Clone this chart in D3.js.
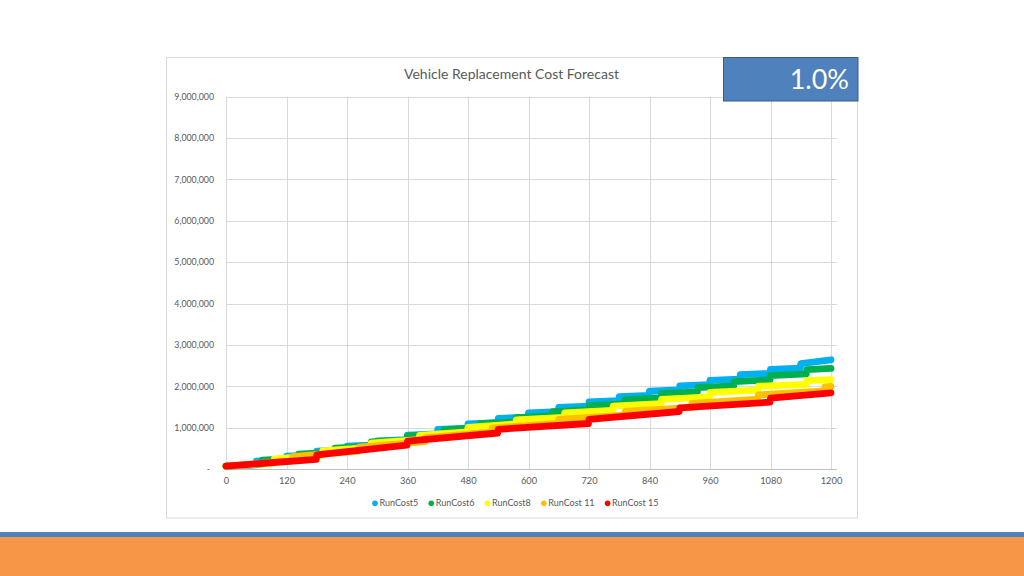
<!DOCTYPE html>
<html><head><meta charset="utf-8">
<script src="https://cdn.jsdelivr.net/npm/d3@7"></script>
<style>body{margin:0;background:#fff}svg{display:block}</style>
</head><body>
<svg id="c" width="1024" height="576"></svg>
<script>
const chartTitle = "Vehicle Replacement Cost Forecast";
const rateLabel = "1.0%";
const xTicks = [0,120,240,360,480,600,720,840,960,1080,1200];
const yTicks = [0,1000000,2000000,3000000,4000000,5000000,6000000,7000000,8000000,9000000];
const seriesNames = ["RunCost5","RunCost6","RunCost8","RunCost 11","RunCost 15"];
const seriesColors = ["#00B0F0","#00B050","#FFFF00","#FFC000","#FF0000"];

// [month, cost]
const runCost5 = [[0,70000],[59,100000],[60,190000],[119,220000],[120,310000],[179,340000],[180,430000],[239,460000],[240,555000],[299,585000],[300,680000],[359,710000],[360,820000],[419,850000],[420,960000],[479,990000],[480,1090000],[539,1120000],[540,1225000],[599,1255000],[600,1355000],[659,1385000],[660,1490000],[719,1520000],[720,1620000],[779,1650000],[780,1750000],[839,1780000],[840,1880000],[899,1910000],[900,2010000],[959,2040000],[960,2140000],[1019,2170000],[1020,2280000],[1079,2310000],[1080,2410000],[1139,2440000],[1140,2550000],[1200,2640000]];
const runCost6 = [[0,70000],[71,116000],[72,216000],[143,261000],[144,361000],[215,407000],[216,507000],[287,553000],[288,653000],[359,698000],[360,798000],[431,844000],[432,944000],[503,992000],[504,1095000],[575,1140000],[576,1240000],[647,1285000],[648,1385000],[719,1430000],[720,1530000],[791,1575000],[792,1675000],[863,1720000],[864,1820000],[935,1865000],[936,1965000],[1007,2010000],[1008,2110000],[1079,2155000],[1080,2255000],[1151,2300000],[1152,2400000],[1200,2430000]];
const runCost8 = [[0,70000],[95,140000],[96,245000],[191,330000],[192,435000],[287,520000],[288,625000],[383,710000],[384,815000],[479,900000],[480,1005000],[575,1090000],[576,1190000],[671,1250000],[672,1355000],[767,1415000],[768,1520000],[863,1580000],[864,1685000],[959,1745000],[960,1850000],[1055,1905000],[1056,2000000],[1151,2045000],[1152,2135000],[1200,2160000]];
const runCost11 = [[0,70000],[131,200000],[132,300000],[263,430000],[264,530000],[395,660000],[396,760000],[527,890000],[528,990000],[659,1105000],[660,1200000],[791,1300000],[792,1395000],[923,1490000],[924,1585000],[1055,1690000],[1056,1790000],[1187,1890000],[1188,1985000],[1200,1995000]];
const runCost15 = [[0,70000],[179,235000],[180,340000],[359,575000],[360,675000],[539,870000],[540,960000],[719,1100000],[720,1200000],[899,1390000],[900,1480000],[1079,1615000],[1080,1715000],[1200,1840000]];
const seriesData = [runCost5, runCost6, runCost8, runCost11, runCost15];

const svg = d3.select("#c");
const font = "Lato, 'Liberation Sans', sans-serif";
const txt = "#595959", grid = "#d9d9d9";

// chart frame
svg.append("rect").attr("x",166.5).attr("y",57.5).attr("width",691).attr("height",460.5)
  .attr("fill","#fff").attr("stroke",grid).attr("stroke-width",1);

const x = d3.scaleLinear().domain([0,1200]).range([226,831]);
const y = d3.scaleLinear().domain([0,9000000]).range([469,96.7]);
const plotRight = 837;

// gridlines
svg.append("g").selectAll("line").data(yTicks.filter(d=>d>0)).join("line")
  .attr("x1",x(0)).attr("x2",plotRight).attr("y1",d=>Math.round(y(d))+0.5).attr("y2",d=>Math.round(y(d))+0.5)
  .attr("stroke",grid).attr("stroke-width",1);
svg.append("g").selectAll("line").data(xTicks).join("line")
  .attr("x1",d=>Math.round(x(d))+0.5).attr("x2",d=>Math.round(x(d))+0.5).attr("y1",y(9000000)).attr("y2",y(0))
  .attr("stroke",grid).attr("stroke-width",1);
svg.append("line").attr("x1",x(0)).attr("x2",plotRight).attr("y1",469.5).attr("y2",469.5)
  .attr("stroke","#bfbfbf").attr("stroke-width",1);

// y axis labels
const yAxis = d3.axisLeft(y).tickValues(yTicks).tickSize(0).tickPadding(12)
  .tickFormat(d => d===0 ? "-" : d3.format(",")(d));
const gy = svg.append("g").attr("transform",`translate(${x(0)},0)`).call(yAxis);
gy.select(".domain").remove();
gy.selectAll("text").attr("fill",txt).style("font-family",font).style("font-size","8.8px");
gy.selectAll(".tick text").filter(d=>d===0).attr("dx",-4);

// x axis labels
const xAxis = d3.axisBottom(x).tickValues(xTicks).tickSize(0).tickPadding(8).tickFormat(d3.format("d"));
const gx = svg.append("g").attr("transform",`translate(0,${y(0)})`).call(xAxis);
gx.select(".domain").remove();
gx.selectAll("text").attr("fill",txt).style("font-family",font).style("font-size","9.3px");

// lines
const line = d3.line().x(d=>x(d[0])).y(d=>y(d[1])).curve(d3.curveLinear);
svg.append("g").selectAll("path").data(seriesData).join("path")
  .attr("d",line).attr("fill","none").attr("stroke",(d,i)=>seriesColors[i])
  .attr("stroke-width",6.8).attr("stroke-linejoin","round").attr("stroke-linecap","round");

// title
svg.append("text").attr("x",511.5).attr("y",79).attr("text-anchor","middle")
  .attr("fill",txt).style("font-family",font).style("font-size","14px").text(chartTitle);

// legend
const lg = svg.append("g");
let lx = 375;
seriesNames.forEach((n,i)=>{
  lg.append("circle").attr("cx",lx).attr("cy",503.3).attr("r",2.8).attr("fill",seriesColors[i]);
  const t = lg.append("text").attr("x",lx+4.5).attr("y",506.4).attr("fill",txt)
    .style("font-family",font).style("font-size","9px").text(n);
  lx += 4.5 + t.node().getComputedTextLength() + 13;
});

// rate box
svg.append("rect").attr("x",723.5).attr("y",57.5).attr("width",134.5).attr("height",43.5)
  .attr("fill","#4F81BD").attr("stroke","#385D8A").attr("stroke-width",1);
svg.append("text").attr("x",849).attr("y",89.3).attr("text-anchor","end").attr("fill","#fff")
  .style("font-family",font).style("font-size","27px").text(rateLabel);

// bottom bands
svg.append("rect").attr("x",0).attr("y",532).attr("width",1024).attr("height",5).attr("fill","#4F81BD");
svg.append("rect").attr("x",0).attr("y",537).attr("width",1024).attr("height",39).attr("fill","#F79646");
</script>
</body></html>
